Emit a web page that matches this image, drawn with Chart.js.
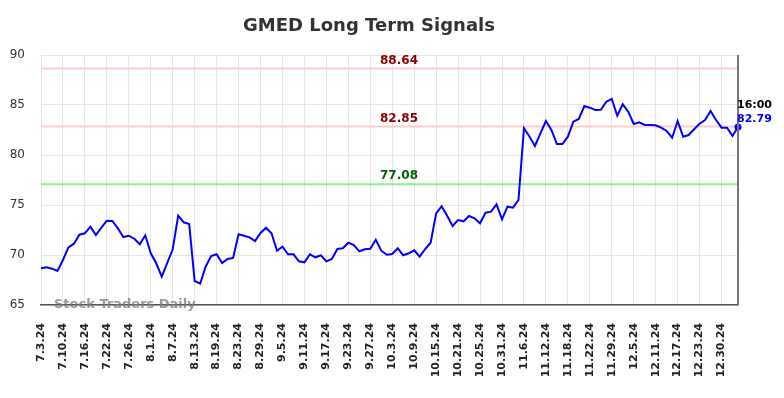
<!DOCTYPE html>
<html>
<head>
<meta charset="utf-8">
<script src="https://cdn.jsdelivr.net/npm/chart.js@4"></script>
<style>
  html, body { margin: 0; padding: 0; background: #fff; }
  #wrap { width: 784px; height: 398px; }
</style>
</head>
<body>
<div id="wrap"><canvas id="signalChart" width="784" height="398"></canvas></div>
<script>
// Trading days, July 3 2024 .. Jan 3 2025
const dates = [
  '7.3.24','7.5.24','7.8.24','7.9.24','7.10.24','7.11.24','7.12.24','7.15.24','7.16.24','7.17.24',
  '7.18.24','7.19.24','7.22.24','7.23.24','7.24.24','7.25.24','7.26.24','7.29.24','7.30.24','7.31.24',
  '8.1.24','8.2.24','8.5.24','8.6.24','8.7.24','8.8.24','8.9.24','8.12.24','8.13.24','8.14.24',
  '8.15.24','8.16.24','8.19.24','8.20.24','8.21.24','8.22.24','8.23.24','8.26.24','8.27.24','8.28.24',
  '8.29.24','8.30.24','9.3.24','9.4.24','9.5.24','9.6.24','9.9.24','9.10.24','9.11.24','9.12.24',
  '9.13.24','9.16.24','9.17.24','9.18.24','9.19.24','9.20.24','9.23.24','9.24.24','9.25.24','9.26.24',
  '9.27.24','9.30.24','10.1.24','10.2.24','10.3.24','10.4.24','10.7.24','10.8.24','10.9.24','10.10.24',
  '10.11.24','10.14.24','10.15.24','10.16.24','10.17.24','10.18.24','10.21.24','10.22.24','10.23.24','10.24.24',
  '10.25.24','10.28.24','10.29.24','10.30.24','10.31.24','11.1.24','11.4.24','11.5.24','11.6.24','11.7.24',
  '11.8.24','11.11.24','11.12.24','11.13.24','11.14.24','11.15.24','11.18.24','11.19.24','11.20.24','11.21.24',
  '11.22.24','11.25.24','11.26.24','11.27.24','11.29.24','12.2.24','12.3.24','12.4.24','12.5.24','12.6.24',
  '12.9.24','12.10.24','12.11.24','12.12.24','12.13.24','12.16.24','12.17.24','12.18.24','12.19.24','12.20.24',
  '12.23.24','12.24.24','12.26.24','12.27.24','12.30.24','12.31.24','1.2.25','1.3.25'
];

// GMED price
const prices = [
  68.67, 68.77, 68.63, 68.40, 69.50, 70.77, 71.13, 72.03, 72.17, 72.83,
  72.00, 72.73, 73.43, 73.40, 72.67, 71.80, 71.93, 71.63, 71.07, 71.97,
  70.17, 69.17, 67.83, 69.20, 70.57, 73.93, 73.27, 73.10, 67.40, 67.13,
  68.83, 69.90, 70.07, 69.20, 69.60, 69.70, 72.07, 71.93, 71.77, 71.40,
  72.20, 72.73, 72.17, 70.43, 70.83, 70.07, 70.07, 69.37, 69.27, 70.07,
  69.77, 69.97, 69.37, 69.60, 70.60, 70.67, 71.23, 71.00, 70.37, 70.57,
  70.63, 71.53, 70.43, 70.03, 70.10, 70.67, 69.97, 70.17, 70.47, 69.83,
  70.60, 71.23, 74.17, 74.87, 73.93, 72.90, 73.50, 73.37, 73.90, 73.67,
  73.17, 74.23, 74.33, 75.07, 73.57, 74.83, 74.73, 75.50, 82.67, 81.85,
  80.90, 82.16, 83.40, 82.50, 81.10, 81.10, 81.83, 83.33, 83.60, 84.90,
  84.73, 84.50, 84.53, 85.33, 85.60, 83.93, 85.07, 84.33, 83.10, 83.27,
  83.00, 83.00, 82.97, 82.73, 82.40, 81.73, 83.40, 81.83, 82.00, 82.57,
  83.13, 83.50, 84.40, 83.50, 82.73, 82.73, 81.90, 82.79
];

// signal levels
const levelValues = [88.64, 82.85, 77.08];
const levelLines = ['#ffcccc', '#ffcccc', '#90ee90'];
const levelTexts = ['#8b0000', '#8b0000', '#006400'];

const lastTime = '16:00';
const tickEvery = 4;
const FONT = "'DejaVu Sans', sans-serif";

const signalPlugin = {
    id: 'signals',
    beforeDatasetsDraw(chart) {
        const {ctx, chartArea, scales} = chart;
        ctx.save();
        // level lines
        for (let i = 0; i < levelValues.length; i++) {
            let y = scales.y.getPixelForValue(levelValues[i]);
            ctx.strokeStyle = levelLines[i];
            ctx.lineWidth = 2;
            ctx.beginPath();
            ctx.moveTo(chartArea.left, y);
            ctx.lineTo(chartArea.right, y);
            ctx.stroke();
        }
        ctx.restore();
    },
    afterDraw(chart) {
        const {ctx, chartArea, scales} = chart;
        ctx.save();
        // level labels
        ctx.font = 'bold 12px ' + FONT;
        ctx.textAlign = 'center';
        ctx.textBaseline = 'bottom';
        for (let i = 0; i < levelValues.length; i++) {
            let y = scales.y.getPixelForValue(levelValues[i]);
            ctx.fillStyle = levelTexts[i];
            ctx.fillText(levelValues[i].toFixed(2), 399, y - 2);
        }
        // right edge line
        ctx.strokeStyle = '#777';
        ctx.lineWidth = 2;
        ctx.beginPath();
        ctx.moveTo(chartArea.right, chartArea.top);
        ctx.lineTo(chartArea.right, chartArea.bottom);
        ctx.stroke();
        // watermark
        ctx.font = 'bold 13px ' + FONT;
        ctx.textAlign = 'left';
        ctx.textBaseline = 'middle';
        ctx.fillStyle = 'rgba(120, 120, 120, 0.75)';
        ctx.fillText('Stock Traders Daily', 54, chartArea.bottom);
        // last value
        const last = prices.length - 1;
        let lx = scales.x.getPixelForValue(last);
        let ly = scales.y.getPixelForValue(prices[last]);
        ctx.font = 'bold 11px ' + FONT;
        ctx.fillStyle = '#000';
        ctx.fillText(lastTime, lx - 1, ly - 22);
        ctx.fillStyle = '#0000ff';
        ctx.fillText(prices[last].toFixed(2), lx - 1, ly - 8);
        ctx.restore();
    }
};

var ctx = document.getElementById('signalChart').getContext('2d');
var myChart = new Chart(ctx, {
    type: 'line',
    data: {
        labels: dates,
        datasets: [{
            data: prices,
            borderColor: '#0000ff',
            borderWidth: 2,
            tension: 0,
            fill: false,
            pointRadius: c => c.dataIndex === prices.length - 1 ? 3.5 : 0,
            pointBackgroundColor: '#0000ff',
            pointBorderWidth: 0
        }]
    },
    options: {
        responsive: false,
        animation: false,
        layout: { padding: { left: 0, right: 46, top: 0, bottom: 0 } },
        plugins: {
            legend: { display: false },
            tooltip: { enabled: false },
            title: {
                display: true,
                text: 'GMED Long Term Signals',
                color: '#333',
                font: { family: FONT, size: 18, weight: 'bold' },
                padding: { top: 16, bottom: 17.4 }
            }
        },
        scales: {
            x: {
                afterFit: s => { s.height = 93; },
                grid: {
                    color: c => (c.index % tickEvery === 0 ? '#e6e6e6' : 'rgba(0,0,0,0)'),
                    lineWidth: 1,
                    drawTicks: false
                },
                border: { color: '#555', width: 1.5 },
                ticks: {
                    autoSkip: false,
                    maxRotation: 90,
                    minRotation: 90,
                    padding: 18,
                    color: '#222',
                    font: { family: FONT, size: 11, weight: 'bold' },
                    callback: function(val, i) {
                        return i % tickEvery === 0 ? dates[i] : '';
                    }
                }
            },
            y: {
                min: 65,
                max: 90,
                afterFit: s => { s.width = 41; },
                grid: { color: '#e6e6e6', drawTicks: false },
                border: { display: false },
                ticks: {
                    stepSize: 5,
                    padding: 16,
                    color: '#333',
                    font: { family: FONT, size: 12 }
                }
            }
        }
    },
    plugins: [signalPlugin]
});
</script>
</body>
</html>
